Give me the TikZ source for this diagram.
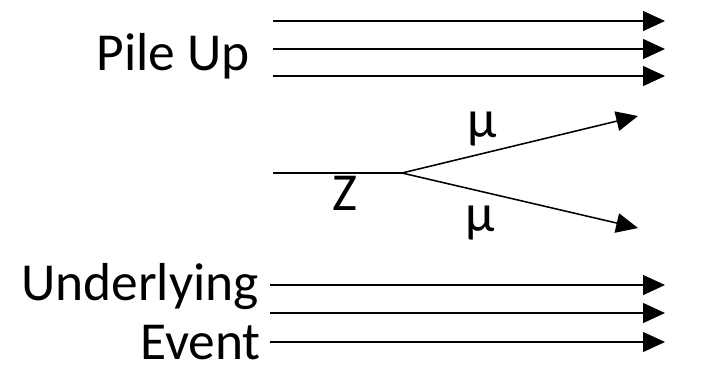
\documentclass[tikz,border=0pt]{standalone}
\usepackage{fontspec}
\setmainfont{Carlito}
\usetikzlibrary{arrows.meta}

\begin{document}
\begin{tikzpicture}[
    x=0.025cm, y=-0.025cm,
    >={Triangle[length=15.5pt, width=14pt]},
    track/.style={->, line width=1.2pt},
    every node/.style={font=\fontsize{38}{42}\selectfont, inner sep=0pt}
  ]
  \useasboundingbox (0,0) rectangle (728,370);

  % Pile up
  \node[anchor=base east] (pileup) at (250,70) {Pile Up};
  \coordinate (p1s) at (273,21);  \coordinate (p1e) at (665,21);
  \coordinate (p2s) at (273,49);  \coordinate (p2e) at (665,49);
  \coordinate (p3s) at (273,76);  \coordinate (p3e) at (665,76);
  \draw[track] (p1s) -- (p1e);
  \draw[track] (p2s) -- (p2e);
  \draw[track] (p3s) -- (p3e);

  % Z decay
  \coordinate (zs) at (273,173);
  \coordinate (vtx) at (402,173);
  \coordinate (muup) at (638,116);
  \coordinate (mudn) at (638,228);
  \draw[line width=1.1pt] (zs) -- (vtx);
  \draw[track, line width=1.1pt] (vtx) -- (muup);
  \draw[track, line width=1.1pt] (vtx) -- (mudn);
  \node[anchor=base] (zlab) at (345,210) {Z};
  \node[anchor=base] (mu1) at (482,137) {μ};
  \node[anchor=base] (mu2) at (480,231) {μ};

  % Underlying event
  \node[anchor=base east] (under) at (259,300) {Underlying};
  \node[anchor=base east] (event) at (261,359) {Event};
  \coordinate (u1s) at (270,285);  \coordinate (u1e) at (665,285);
  \coordinate (u2s) at (270,313);  \coordinate (u2e) at (665,313);
  \coordinate (u3s) at (270,342);  \coordinate (u3e) at (665,342);
  \draw[track] (u1s) -- (u1e);
  \draw[track] (u2s) -- (u2e);
  \draw[track] (u3s) -- (u3e);
\end{tikzpicture}
\end{document}
